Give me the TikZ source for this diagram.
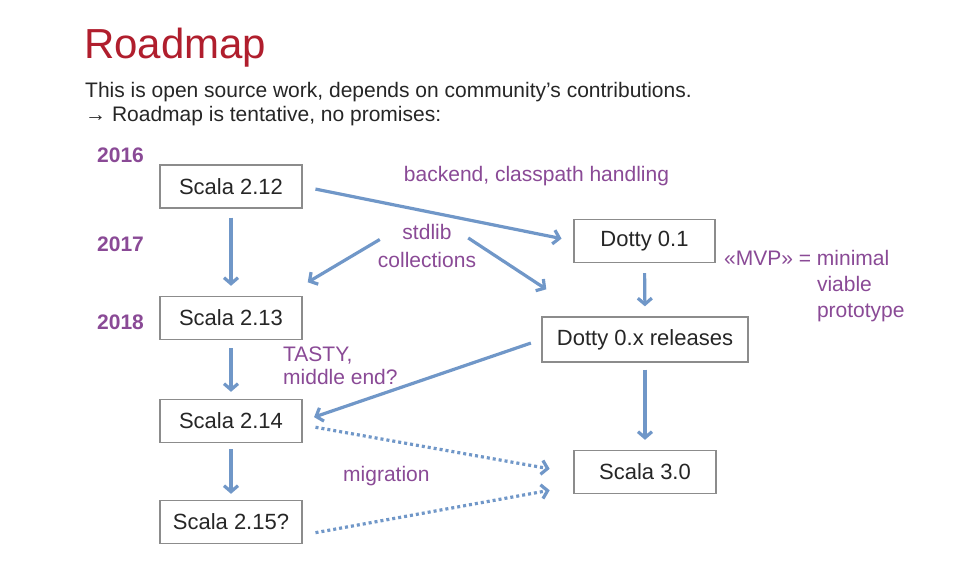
\documentclass[tikz,border=0pt]{standalone}
\usepackage{fontspec}
\setmainfont{Liberation Sans}
\usepackage{xcolor}
\usepackage{tikz}
\usetikzlibrary{
  arrows.meta,
  positioning
}
\definecolor{RoadRed}{HTML}{B01E2D}
\definecolor{RoadPurple}{HTML}{8A4A96}
\definecolor{RoadBlue}{HTML}{7097C8}
\definecolor{RoadGray}{HTML}{8C8C8C}
\definecolor{RoadText}{HTML}{262626}

\tikzset{
  release/.style={draw=RoadGray,line width=1.4pt,fill=white,text=RoadText,
    minimum width=142pt,minimum height=43pt,inner sep=0pt,
    font=\fontsize{22}{26}\selectfont},
  yearlabel/.style={text=RoadPurple,anchor=base west,inner sep=0pt,
    font=\fontsize{21}{25}\selectfont\bfseries},
  note/.style={text=RoadPurple,inner sep=0pt,font=\fontsize{21}{25}\selectfont},
  flow/.style={draw=RoadBlue,line width=3.2pt,-{Straight Barb[length=6pt,width=14pt]}},
  migrate/.style={flow,dash pattern=on 3pt off 3pt}
}

\begin{document}
\begin{tikzpicture}[x=1pt,y=-1pt]
  \fill[white] (0,0) rectangle (970,577);
  \useasboundingbox (0,0) rectangle (970,577);

  % heading
  \node[anchor=base west,inner sep=0pt,text=RoadRed,font=\fontsize{42}{50}\selectfont]
    (title) at (84,59) {Roadmap};
  \node[anchor=base west,inner sep=0pt,text=RoadText,font=\fontsize{21}{25}\selectfont]
    (intro) at (85,98) {This is open source work, depends on community’s contributions.};
  \node[anchor=base west,inner sep=0pt,text=RoadText,font=\fontsize{21}{25}\selectfont]
    (tentative) at (85,122) {→ Roadmap is tentative, no promises:};

  % years
  \node[yearlabel] (y2016) at (97,163) {2016};
  \node[yearlabel] (y2017) at (97,252) {2017};
  \node[yearlabel] (y2018) at (97,330) {2018};

  % releases
  \node[release] (s212) at (231,186.5) {Scala 2.12};
  \node[release] (s213) at (231,318) {Scala 2.13};
  \node[release] (s214) at (231,421) {Scala 2.14};
  \node[release] (s215) at (231,522) {Scala 2.15?};
  \node[release,minimum width=141pt] (d01) at (644.5,241) {Dotty 0.1};
  \node[release,minimum width=206pt,minimum height=45pt] (d0x) at (645,339.5) {Dotty 0.x releases};
  \node[release] (s30) at (645,472) {Scala 3.0};

  % notes (base = last line)
  \node[note,anchor=base] (backend) at (536.5,182) {backend, classpath handling};
  \node[note,align=center,anchor=base] (stdlib) at (427,268) {stdlib\\[3pt]collections};
  \node[note,align=left,anchor=base west] (tasty) at (283,385) {TASTY,\\[-2pt]middle end?};
  \node[note,anchor=base west] (migration) at (343,482) {migration};
  \node[note,align=left,anchor=base west,font=\fontsize{21}{25}\selectfont] (mvp) at (724,318)
    {«MVP» = minimal\\[1pt]\phantom{«MVP» = }viable\\[1pt]\phantom{«MVP» = }prototype};

  % arrows
  \draw[flow,shorten <=13pt,shorten >=12pt] (s212.east) -- (d01.west);
  \draw[flow,shorten <=9pt,shorten >=10pt] (s212.south) -- (s213.north);
  \draw[flow,shorten <=8pt,shorten >=7pt] (s213.south) -- (s214.north);
  \draw[flow,shorten <=6pt,shorten >=6pt] (s214.south) -- (s215.north);
  \draw[flow,shorten <=10pt,shorten >=10pt] (d01.south) -- (d0x.north);
  \draw[flow,shorten <=7pt,shorten >=10pt] (d0x.south) -- (s30.north);
  \draw[flow] ([shift={(2pt,7pt)}]stdlib.west) -- ([shift={(5pt,13.5pt)}]s213.north east);
  \draw[flow] ([shift={(-8pt,8.5pt)}]stdlib.east) -- ([shift={(5pt,27pt)}]d0x.north west);
  \draw[flow,shorten <=11pt,shorten >=12pt] (d0x.west) -- (s214.east);
  \draw[migrate,shorten <=13pt,shorten >=24pt] ([yshift=-4pt]s214.east) -- ([yshift=-1pt]s30.west);
  \draw[migrate,shorten <=13pt,shorten >=24pt] ([yshift=-13pt]s215.east) -- ([yshift=-14pt]s30.west);
\end{tikzpicture}
\end{document}
